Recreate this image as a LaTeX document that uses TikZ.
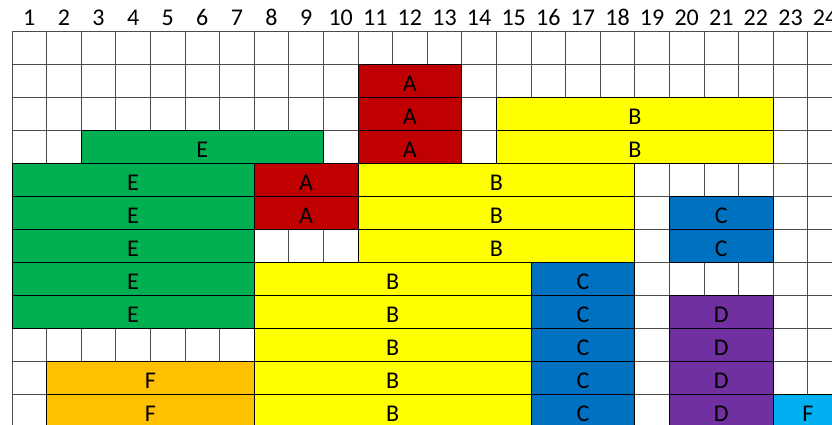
\documentclass[tikz,border=0pt]{standalone}
\usepackage{fontspec}
\setmainfont{Carlito}
\definecolor{cA}{HTML}{C00000}
\definecolor{cB}{HTML}{FFFF00}
\definecolor{cC}{HTML}{0070C0}
\definecolor{cD}{HTML}{7030A0}
\definecolor{cE}{HTML}{00B050}
\definecolor{cF}{HTML}{FFC000}
\definecolor{cG}{HTML}{00B0F0}
\tikzset{
  gridline/.style={draw=black!70, line width=1pt},
  blockbox/.style={draw=black, line width=1pt},
  lbl/.style={anchor=base, inner sep=0pt, font=\fontsize{24}{24}\selectfont},
  hdr/.style={anchor=base, inner sep=0pt, font=\fontsize{24}{24}\selectfont},
}
\newcommand\blk[5]{%
  \filldraw[blockbox, fill=#4] ({12+(#2-1)*34.6},{31+(#1-1)*33}) rectangle ({12+#3*34.6},{31+#1*33});
  \node[lbl] (b#1c#2) at ({12+(#2+#3-1)/2*34.6},{31+#1*33-6}) {#5};}
\begin{document}
\begin{tikzpicture}[x=1pt,y=-1pt]
\useasboundingbox (0,0) rectangle (832,424);
\clip (0,0) rectangle (832,424);
\fill[white] (0,0) rectangle (832,424);
% header
\foreach \c in {1,...,24} \node[hdr] (h\c) at ({12+(\c-0.5)*34.6},25) {\c};
% grid
\foreach \c in {0,...,24} \draw[gridline] ({12+\c*34.6},31) -- ({12+\c*34.6},430);
\foreach \r in {0,...,12} \draw[gridline] (12,{31+\r*33}) -- (845,{31+\r*33});
% blocks
\blk{2}{11}{13}{cA}{A}
\blk{3}{11}{13}{cA}{A}
\blk{3}{15}{22}{cB}{B}
\blk{4}{3}{9}{cE}{E}
\blk{4}{11}{13}{cA}{A}
\blk{4}{15}{22}{cB}{B}
\blk{5}{1}{7}{cE}{E}
\blk{5}{8}{10}{cA}{A}
\blk{5}{11}{18}{cB}{B}
\blk{6}{1}{7}{cE}{E}
\blk{6}{8}{10}{cA}{A}
\blk{6}{11}{18}{cB}{B}
\blk{6}{20}{22}{cC}{C}
\blk{7}{1}{7}{cE}{E}
\blk{7}{11}{18}{cB}{B}
\blk{7}{20}{22}{cC}{C}
\blk{8}{1}{7}{cE}{E}
\blk{8}{8}{15}{cB}{B}
\blk{8}{16}{18}{cC}{C}
\blk{9}{1}{7}{cE}{E}
\blk{9}{8}{15}{cB}{B}
\blk{9}{16}{18}{cC}{C}
\blk{9}{20}{22}{cD}{D}
\blk{10}{8}{15}{cB}{B}
\blk{10}{16}{18}{cC}{C}
\blk{10}{20}{22}{cD}{D}
\blk{11}{2}{7}{cF}{F}
\blk{11}{8}{15}{cB}{B}
\blk{11}{16}{18}{cC}{C}
\blk{11}{20}{22}{cD}{D}
\blk{12}{2}{7}{cF}{F}
\blk{12}{8}{15}{cB}{B}
\blk{12}{16}{18}{cC}{C}
\blk{12}{20}{22}{cD}{D}
\blk{12}{23}{24}{cG}{F}
\end{tikzpicture}
\end{document}
